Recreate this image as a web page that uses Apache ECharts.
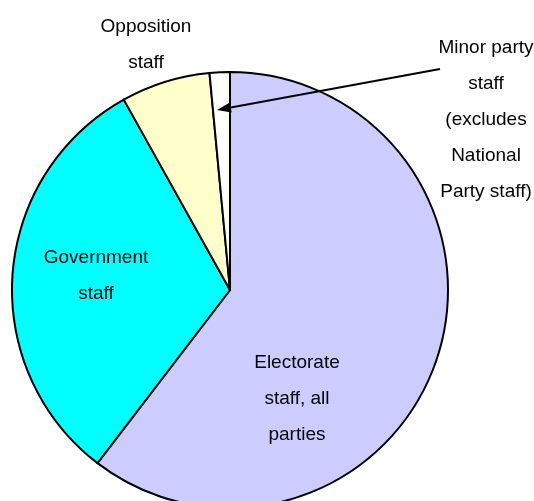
<!DOCTYPE html>
<html>
<head>
<meta charset="utf-8">
<script src="https://cdn.jsdelivr.net/npm/echarts@6/dist/echarts.min.js"></script>
<style>html,body{margin:0;padding:0;background:#fff;}#c{width:534px;height:501px;}</style>
</head>
<body>
<div id="c"></div>
<script>
var categories = ['Electorate\nstaff, all\nparties', 'Government\nstaff', 'Opposition\nstaff', 'Minor party\nstaff\n(excludes\nNational\nParty staff)'];
var values = [60.4, 31.5, 6.6, 1.5];
var colors = ['#CCCCFF', '#00FFFF', '#FFFFCC', '#FFFFFF'];
var labelPos = [[297, 399], [96, 276], [146, 45], [486, 120]];

var chart = echarts.init(document.getElementById('c'), null, {renderer: 'canvas'});
var data = categories.map(function (c, i) {
  return { name: c, value: values[i], itemStyle: { color: colors[i] } };
});
var TIP = [217, 110], FROM = [440, 69];
var ux = TIP[0] - FROM[0], uy = TIP[1] - FROM[1];
var L = Math.sqrt(ux * ux + uy * uy); ux /= L; uy /= L;
var hl = 14, hw = 5;
var bx = TIP[0] - ux * hl, by = TIP[1] - uy * hl;
chart.setOption({
  animation: false,
  series: [{
    type: 'pie',
    center: [230, 290],
    radius: 218,
    startAngle: 90,
    clockwise: true,
    avoidLabelOverlap: false,
    data: data,
    itemStyle: { borderColor: '#000', borderWidth: 2 },
    label: {
      show: true,
      position: 'inside',
      fontFamily: '"Liberation Sans", Arial, sans-serif',
      fontSize: 19,
      lineHeight: 36,
      color: '#000',
      align: 'center',
      overflow: 'none'
    },
    labelLine: { show: false },
    labelLayout: function (p) {
      var pos = labelPos[p.dataIndex];
      return { x: pos[0], y: pos[1], align: 'center', verticalAlign: 'middle', hideOverlap: false };
    },
    emphasis: { disabled: true }
  }],
  graphic: [
    { type: 'line', z: 100, shape: { x1: FROM[0], y1: FROM[1], x2: bx, y2: by }, style: { stroke: '#000', lineWidth: 2 } },
    { type: 'polygon', z: 100, shape: { points: [TIP, [bx - uy * hw, by + ux * hw], [bx + uy * hw, by - ux * hw]] }, style: { fill: '#000' } }
  ]
});
</script>
</body>
</html>
